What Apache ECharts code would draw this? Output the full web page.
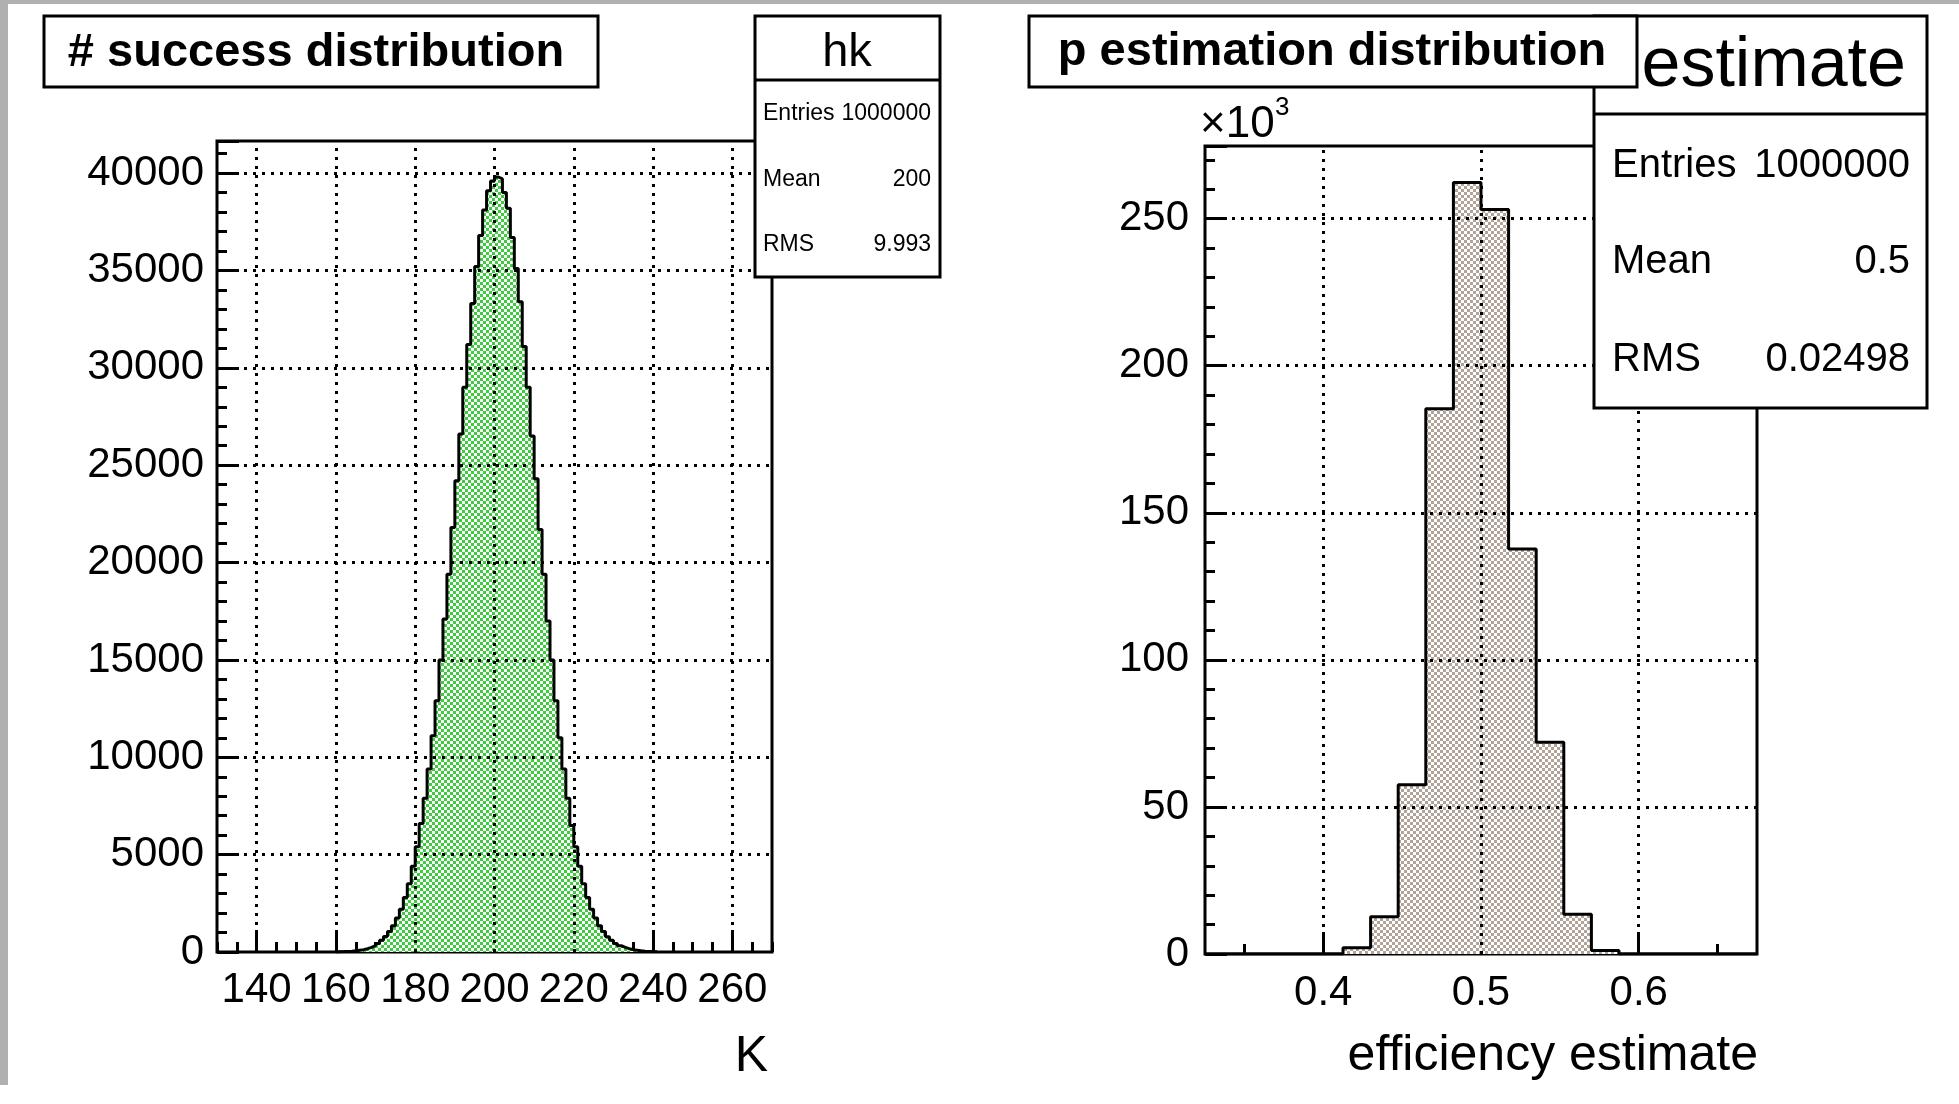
<!DOCTYPE html>
<html>
<head>
<meta charset="utf-8">
<script src="https://cdn.jsdelivr.net/npm/echarts@6/dist/echarts.min.js"></script>
<style>
    html, body { margin: 0; padding: 0; background: #fff; }
    #main { width: 1959px; height: 1104px; }
</style>
</head>
<body>
<div id="main"></div>
<script>
// hk : number of successes K, one bin per integer, first bin at K = 160
var kRange = [130, 270];
var kFirst = 160;
var kCounts = [
    15, 20, 30, 40, 60, 90, 120, 170, 240, 330,
    440, 600, 790, 1050, 1350, 1750, 2200, 2800, 3500, 4400,
    5400, 6600, 7900, 9400, 11100, 12900, 15000, 17100, 19400, 21800,
    24200, 26600, 29000, 31200, 33300, 35200, 36800, 38100, 39100, 39600,
    39800,
    39700, 39000, 38200, 36700, 35100, 33400, 31100, 29000, 26500, 24300,
    21700, 19400, 17000, 15000, 12900, 11000, 9400, 7900, 6500, 5400,
    4400, 3500, 2800, 2200, 1750, 1350, 1050, 780, 600, 440,
    320, 240, 170, 120, 90, 60, 40, 30, 20, 15
];
var kMax = 41650;
var kMajor = [140, 160, 180, 200, 220, 240, 260];
var kCountGrid = [5000, 10000, 15000, 20000, 25000, 30000, 35000, 40000];

// estimate : efficiency K/N, 20 bins of 0.0175 from 0.325
var effRange = [0.325, 0.675];
var effBinWidth = 0.0175;
var effCounts = [0, 0, 0, 0, 0, 2100, 12700, 57500, 185400, 262300,
                 253100, 137700, 72000, 13500, 1200, 0, 0, 0, 0, 0];
var effMax = 274700;
var effMajor = [0.4, 0.5, 0.6];
var effMinor = [0.35, 0.45, 0.55, 0.65];
var effCountGrid = [50000, 100000, 150000, 200000, 250000];

var FONT = '"Liberation Sans", Arial, Helvetica, sans-serif';

function checker(c1, c2, s) {
    var cv = document.createElement('canvas');
    cv.width = cv.height = 2 * s;
    var g = cv.getContext('2d');
    g.fillStyle = c2;
    g.fillRect(0, 0, 2 * s, 2 * s);
    g.fillStyle = c1;
    g.fillRect(0, 0, s, s);
    g.fillRect(s, s, s, s);
    return cv;
}

// outline of a histogram: each bin gives its left and right edge at its height
function stepPoints(first, width, counts) {
    var pts = [[first, 0]];
    counts.forEach(function (c, i) {
        var x0 = first + i * width;
        pts.push([x0, c], [x0 + width, c]);
    });
    pts.push([first + counts.length * width, 0]);
    return pts;
}

function gridMarks(xs, ys) {
    return {
        silent: true,
        symbol: 'none',
        label: { show: false },
        lineStyle: { color: '#000', type: [3, 6], width: 3 },
        data: xs.map(function (v) { return { xAxis: v }; })
            .concat(ys.map(function (v) { return { yAxis: v }; }))
    };
}

var tickStyle = { color: '#000', width: 3 };
var labelStyle = { color: '#000', fontSize: 42, fontFamily: FONT };

function xAxisCfg(grid, range, opts) {
    return Object.assign({
        gridIndex: grid, type: 'value', position: 'bottom',
        min: range[0], max: range[1],
        axisLine: { show: false },
        splitLine: { show: false }
    }, opts);
}

function yAxisCfg(grid, max, opts) {
    return Object.assign({
        gridIndex: grid, type: 'value', position: 'left',
        min: 0, max: max,
        axisLine: { show: false },
        splitLine: { show: false }
    }, opts);
}

function txt(text, x, y, size, align, weight, z) {
    return {
        type: 'text', z: z || 110,
        style: {
            text: text, x: x, y: y,
            font: (weight || 'normal') + ' ' + size + 'px ' + FONT,
            fill: '#000',
            align: align, textAlign: align,
            verticalAlign: 'middle', textVerticalAlign: 'middle'
        }
    };
}

function box(x, y, w, h, z) {
    return {
        type: 'rect', z: z,
        shape: { x: x, y: y, width: w, height: h },
        style: { fill: '#fff', stroke: '#000', lineWidth: 3 }
    };
}

function hline(x1, x2, y, z) {
    return {
        type: 'line', z: z,
        shape: { x1: x1, y1: y, x2: x2, y2: y },
        style: { stroke: '#000', lineWidth: 3 }
    };
}

var chart = echarts.init(document.getElementById('main'), null, { renderer: 'canvas' });

chart.setOption({
    animation: false,
    backgroundColor: '#fff',
    grid: [
        { left: 217, top: 141, width: 555, height: 811, show: true, borderColor: '#000', borderWidth: 3 },
        { left: 1205, top: 146, width: 552, height: 808, show: true, borderColor: '#000', borderWidth: 3 }
    ],
    xAxis: [
        xAxisCfg(0, kRange, {
            interval: 5,
            axisTick: { inside: true, length: 10, lineStyle: tickStyle },
            axisLabel: { show: false }
        }),
        xAxisCfg(0, kRange, {
            axisTick: { inside: true, length: 22, customValues: kMajor, lineStyle: tickStyle },
            axisLabel: Object.assign({ customValues: kMajor, margin: 17 }, labelStyle)
        }),
        xAxisCfg(1, effRange, {
            axisTick: { inside: true, length: 10, customValues: effMinor, lineStyle: tickStyle },
            axisLabel: { show: false }
        }),
        xAxisCfg(1, effRange, {
            axisTick: { inside: true, length: 22, customValues: effMajor, lineStyle: tickStyle },
            axisLabel: Object.assign({
                customValues: effMajor, margin: 18,
                formatter: function (v) { return v.toFixed(1); }
            }, labelStyle)
        })
    ],
    yAxis: [
        yAxisCfg(0, kMax, {
            interval: 5000,
            axisTick: { inside: true, length: 22, lineStyle: tickStyle },
            axisLabel: Object.assign({
                margin: 13,
                formatter: function (v) { return v % 5000 === 0 ? String(v) : ''; }
            }, labelStyle)
        }),
        yAxisCfg(0, kMax, {
            interval: 1000,
            axisTick: { inside: true, length: 10, lineStyle: tickStyle },
            axisLabel: { show: false }
        }),
        yAxisCfg(1, effMax, {
            interval: 50000,
            axisTick: { inside: true, length: 22, lineStyle: tickStyle },
            axisLabel: Object.assign({
                margin: 16,
                formatter: function (v) { return v % 50000 === 0 ? String(v / 1000) : ''; }
            }, labelStyle)
        }),
        yAxisCfg(1, effMax, {
            interval: 10000,
            axisTick: { inside: true, length: 10, lineStyle: tickStyle },
            axisLabel: { show: false }
        })
    ],
    series: [
        {
            type: 'line', xAxisIndex: 0, yAxisIndex: 0,
            data: stepPoints(kFirst, 1, kCounts),
            symbol: 'none', showSymbol: false,
            lineStyle: { color: '#000', width: 3 },
            areaStyle: { color: { image: checker('#3fcb3f', '#ffffff', 3), repeat: 'repeat' }, opacity: 1 },
            markLine: gridMarks(kMajor, kCountGrid)
        },
        {
            type: 'line', xAxisIndex: 2, yAxisIndex: 2,
            data: stepPoints(effRange[0], effBinWidth, effCounts),
            symbol: 'none', showSymbol: false,
            lineStyle: { color: '#000', width: 3 },
            areaStyle: { color: { image: checker('#b2a399', '#ffffff', 3), repeat: 'repeat' }, opacity: 1 },
            markLine: gridMarks(effMajor, effCountGrid)
        }
    ],
    graphic: [
        // window edges
        { type: 'rect', z: 90, shape: { x: 0, y: 0, width: 1959, height: 4 }, style: { fill: '#b0b0b0' } },
        { type: 'rect', z: 90, shape: { x: 0, y: 0, width: 8, height: 1085 }, style: { fill: '#b0b0b0' } },

        // left pad
        box(44, 16, 554, 71, 100),
        txt('# success distribution', 316, 53, 47, 'center', 'bold'),
        box(755, 16, 185, 261, 100),
        hline(755, 940, 80, 101),
        txt('hk', 847, 53, 47, 'center'),
        txt('Entries', 763, 114, 23, 'left'),
        txt('1000000', 931, 114, 23, 'right'),
        txt('Mean', 763, 180, 23, 'left'),
        txt('200', 931, 180, 23, 'right'),
        txt('RMS', 763, 245, 23, 'left'),
        txt('9.993', 931, 245, 23, 'right'),
        txt('K', 768, 1057, 50, 'right'),

        // right pad
        box(1594, 16, 333, 392, 100),
        hline(1594, 1927, 114, 101),
        txt('estimate', 1906, 67, 70, 'right', 'normal', 101),
        txt('Entries', 1612, 166, 40, 'left'),
        txt('1000000', 1910, 166, 40, 'right'),
        txt('Mean', 1612, 262, 40, 'left'),
        txt('0.5', 1910, 262, 40, 'right'),
        txt('RMS', 1612, 360, 40, 'left'),
        txt('0.02498', 1910, 360, 40, 'right'),
        box(1029, 16, 608, 71, 105),
        txt('p estimation distribution', 1332, 52, 47, 'center', 'bold', 112),
        txt('\u00d710', 1200, 125, 44, 'left'),
        txt('3', 1275, 108, 26, 'left'),
        txt('efficiency estimate', 1758, 1056, 50, 'right')
    ]
});
</script>
</body>
</html>
